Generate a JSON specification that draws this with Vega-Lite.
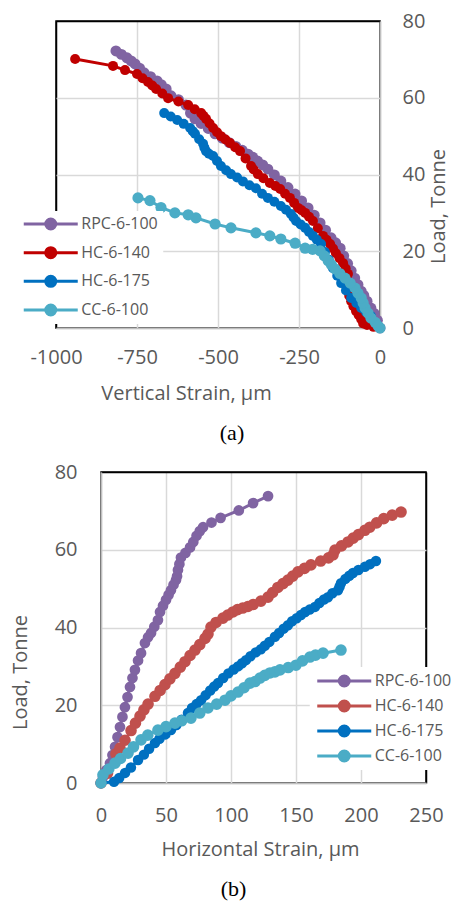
{
  "$schema": "https://vega.github.io/schema/vega-lite/v6.json",
  "background": "white",
  "padding": {"left": 9, "top": 10, "right": 0, "bottom": 0},
  "config": {
    "view": {"stroke": "black", "strokeWidth": 1.5},
    "axis": {
      "gridColor": "#D9D9D9", "gridWidth": 1.5,
      "domainColor": "#BFBFBF", "domainWidth": 1.5,
      "ticks": false, "labelFlush": false,
      "labelFont": "Open Sans", "labelFontSize": 20, "labelColor": "#595959",
      "titleFont": "Open Sans", "titleFontSize": 20, "titleColor": "#595959", "titleFontWeight": "normal"
    },
    "legend": {
      "title": null,
      "labelFont": "Open Sans", "labelFontSize": 16, "labelColor": "#595959",
      "fillColor": "white",
      "symbolType": "M-1,0L1,0M0.185,0A0.185,0.185,0,1,1,-0.185,0A0.185,0.185,0,1,1,0.185,0Z",
      "symbolSize": 2916,
      "symbolStrokeWidth": 3,
      "clipHeight": 16,
      "labelOffset": 2
    }
  },
  "datasets": {
    "vertical": [
      {"s":"RPC-6-100","x":0,"y":0},{"s":"RPC-6-100","x":-8,"y":2},{"s":"RPC-6-100","x":-18,"y":3.8},{"s":"RPC-6-100","x":-28,"y":5.2},{"s":"RPC-6-100","x":-40,"y":7},{"s":"RPC-6-100","x":-50,"y":8.5},{"s":"RPC-6-100","x":-58,"y":9.6},{"s":"RPC-6-100","x":-68,"y":11.3},{"s":"RPC-6-100","x":-78,"y":13},{"s":"RPC-6-100","x":-89,"y":14.9},{"s":"RPC-6-100","x":-100,"y":16.8},{"s":"RPC-6-100","x":-112,"y":18.8},{"s":"RPC-6-100","x":-123,"y":20.8},{"s":"RPC-6-100","x":-137,"y":22.2},{"s":"RPC-6-100","x":-151,"y":23.5},{"s":"RPC-6-100","x":-168,"y":25.5},{"s":"RPC-6-100","x":-185,"y":27.4},{"s":"RPC-6-100","x":-203,"y":29.4},{"s":"RPC-6-100","x":-222,"y":31.3},{"s":"RPC-6-100","x":-242,"y":33.1},{"s":"RPC-6-100","x":-262,"y":34.9},{"s":"RPC-6-100","x":-284,"y":36.6},{"s":"RPC-6-100","x":-306,"y":38.3},{"s":"RPC-6-100","x":-326,"y":39.9},{"s":"RPC-6-100","x":-346,"y":41.4},{"s":"RPC-6-100","x":-362,"y":42.5},{"s":"RPC-6-100","x":-378,"y":43.5},{"s":"RPC-6-100","x":-393,"y":44.5},{"s":"RPC-6-100","x":-407,"y":45.3},{"s":"RPC-6-100","x":-425,"y":46.3},{"s":"RPC-6-100","x":-445,"y":47.3},{"s":"RPC-6-100","x":-465,"y":48.3},{"s":"RPC-6-100","x":-487,"y":49.5},{"s":"RPC-6-100","x":-509,"y":50.6},{"s":"RPC-6-100","x":-530,"y":52},{"s":"RPC-6-100","x":-552,"y":53.3},{"s":"RPC-6-100","x":-571,"y":54.5},{"s":"RPC-6-100","x":-585,"y":56},{"s":"RPC-6-100","x":-599,"y":58.1},{"s":"RPC-6-100","x":-622,"y":59.5},{"s":"RPC-6-100","x":-645,"y":60.5},{"s":"RPC-6-100","x":-660,"y":62.3},{"s":"RPC-6-100","x":-675,"y":63.4},{"s":"RPC-6-100","x":-688,"y":64.4},{"s":"RPC-6-100","x":-708,"y":65.5},{"s":"RPC-6-100","x":-728,"y":66.5},{"s":"RPC-6-100","x":-742,"y":67.7},{"s":"RPC-6-100","x":-756,"y":68.8},{"s":"RPC-6-100","x":-768,"y":69.6},{"s":"RPC-6-100","x":-781,"y":70.4},{"s":"RPC-6-100","x":-798,"y":71.3},{"s":"RPC-6-100","x":-815,"y":72.2},
      {"s":"HC-6-140","x":0,"y":0},{"s":"HC-6-140","x":-20,"y":0.3},{"s":"HC-6-140","x":-40,"y":0.8},{"s":"HC-6-140","x":-52,"y":1.2},{"s":"HC-6-140","x":-58,"y":2.3},{"s":"HC-6-140","x":-66,"y":3.4},{"s":"HC-6-140","x":-74,"y":4.4},{"s":"HC-6-140","x":-82,"y":5.7},{"s":"HC-6-140","x":-89,"y":7},{"s":"HC-6-140","x":-95,"y":8.4},{"s":"HC-6-140","x":-99,"y":9.6},{"s":"HC-6-140","x":-102,"y":11},{"s":"HC-6-140","x":-101,"y":12.5},{"s":"HC-6-140","x":-99,"y":14.1},{"s":"HC-6-140","x":-106,"y":15.5},{"s":"HC-6-140","x":-114,"y":16.9},{"s":"HC-6-140","x":-125,"y":18.2},{"s":"HC-6-140","x":-136,"y":19.5},{"s":"HC-6-140","x":-145,"y":20.7},{"s":"HC-6-140","x":-154,"y":21.9},{"s":"HC-6-140","x":-165,"y":23},{"s":"HC-6-140","x":-176,"y":24},{"s":"HC-6-140","x":-192,"y":26},{"s":"HC-6-140","x":-207,"y":27.9},{"s":"HC-6-140","x":-219,"y":29},{"s":"HC-6-140","x":-231,"y":30},{"s":"HC-6-140","x":-242,"y":30.7},{"s":"HC-6-140","x":-253,"y":31.3},{"s":"HC-6-140","x":-265,"y":32.6},{"s":"HC-6-140","x":-278,"y":33.9},{"s":"HC-6-140","x":-293,"y":35},{"s":"HC-6-140","x":-308,"y":36.2},{"s":"HC-6-140","x":-323,"y":37},{"s":"HC-6-140","x":-340,"y":37.8},{"s":"HC-6-140","x":-360,"y":39},{"s":"HC-6-140","x":-377,"y":40.1},{"s":"HC-6-140","x":-390,"y":41.3},{"s":"HC-6-140","x":-398,"y":42.2},{"s":"HC-6-140","x":-415,"y":44.2},{"s":"HC-6-140","x":-432,"y":46.1},{"s":"HC-6-140","x":-447,"y":47.1},{"s":"HC-6-140","x":-463,"y":48.2},{"s":"HC-6-140","x":-477,"y":49.1},{"s":"HC-6-140","x":-491,"y":50},{"s":"HC-6-140","x":-503,"y":51},{"s":"HC-6-140","x":-515,"y":52.1},{"s":"HC-6-140","x":-526,"y":53.3},{"s":"HC-6-140","x":-537,"y":54.5},{"s":"HC-6-140","x":-545,"y":55.3},{"s":"HC-6-140","x":-552,"y":56},{"s":"HC-6-140","x":-572,"y":57},{"s":"HC-6-140","x":-592,"y":58.1},{"s":"HC-6-140","x":-622,"y":59},{"s":"HC-6-140","x":-654,"y":59.9},{"s":"HC-6-140","x":-672,"y":61.1},{"s":"HC-6-140","x":-691,"y":62.3},{"s":"HC-6-140","x":-703,"y":63.2},{"s":"HC-6-140","x":-716,"y":64.1},{"s":"HC-6-140","x":-733,"y":65.1},{"s":"HC-6-140","x":-750,"y":66.2},{"s":"HC-6-140","x":-787,"y":67.2},{"s":"HC-6-140","x":-824,"y":68.3},{"s":"HC-6-140","x":-941,"y":70.1},
      {"s":"HC-6-175","x":0,"y":0},{"s":"HC-6-175","x":-10,"y":1},{"s":"HC-6-175","x":-28,"y":3.1},{"s":"HC-6-175","x":-43,"y":4.2},{"s":"HC-6-175","x":-58,"y":5.2},{"s":"HC-6-175","x":-73,"y":6.5},{"s":"HC-6-175","x":-89,"y":7.8},{"s":"HC-6-175","x":-105,"y":9.8},{"s":"HC-6-175","x":-120,"y":11.7},{"s":"HC-6-175","x":-132,"y":13.6},{"s":"HC-6-175","x":-145,"y":15.6},{"s":"HC-6-175","x":-158,"y":17.8},{"s":"HC-6-175","x":-170,"y":19.8},{"s":"HC-6-175","x":-182,"y":21.9},{"s":"HC-6-175","x":-195,"y":23},{"s":"HC-6-175","x":-207,"y":24},{"s":"HC-6-175","x":-219,"y":25},{"s":"HC-6-175","x":-231,"y":26.1},{"s":"HC-6-175","x":-245,"y":27},{"s":"HC-6-175","x":-259,"y":27.9},{"s":"HC-6-175","x":-267,"y":28.8},{"s":"HC-6-175","x":-275,"y":29.7},{"s":"HC-6-175","x":-290,"y":30.8},{"s":"HC-6-175","x":-306,"y":31.8},{"s":"HC-6-175","x":-326,"y":32.9},{"s":"HC-6-175","x":-346,"y":33.9},{"s":"HC-6-175","x":-364,"y":35},{"s":"HC-6-175","x":-383,"y":36.4},{"s":"HC-6-175","x":-403,"y":37.2},{"s":"HC-6-175","x":-423,"y":38.2},{"s":"HC-6-175","x":-441,"y":39.2},{"s":"HC-6-175","x":-460,"y":40.1},{"s":"HC-6-175","x":-475,"y":41.1},{"s":"HC-6-175","x":-491,"y":42.2},{"s":"HC-6-175","x":-503,"y":43.5},{"s":"HC-6-175","x":-515,"y":44.8},{"s":"HC-6-175","x":-528,"y":45.4},{"s":"HC-6-175","x":-537,"y":46.1},{"s":"HC-6-175","x":-542,"y":47},{"s":"HC-6-175","x":-546,"y":48},{"s":"HC-6-175","x":-558,"y":49.2},{"s":"HC-6-175","x":-571,"y":50.6},{"s":"HC-6-175","x":-578,"y":51.3},{"s":"HC-6-175","x":-586,"y":52.1},{"s":"HC-6-175","x":-606,"y":53.2},{"s":"HC-6-175","x":-626,"y":54.2},{"s":"HC-6-175","x":-646,"y":55.1},{"s":"HC-6-175","x":-666,"y":56},
      {"s":"CC-6-100","x":0,"y":0},{"s":"CC-6-100","x":-6,"y":0.5},{"s":"CC-6-100","x":-15,"y":1.5},{"s":"CC-6-100","x":-28,"y":2.6},{"s":"CC-6-100","x":-37,"y":3.9},{"s":"CC-6-100","x":-46,"y":5.2},{"s":"CC-6-100","x":-52,"y":6.5},{"s":"CC-6-100","x":-58,"y":7.8},{"s":"CC-6-100","x":-68,"y":9.1},{"s":"CC-6-100","x":-77,"y":10.4},{"s":"CC-6-100","x":-92,"y":11.7},{"s":"CC-6-100","x":-108,"y":13},{"s":"CC-6-100","x":-124,"y":14.2},{"s":"CC-6-100","x":-139,"y":15.4},{"s":"CC-6-100","x":-150,"y":16.5},{"s":"CC-6-100","x":-160,"y":17.5},{"s":"CC-6-100","x":-172,"y":18.8},{"s":"CC-6-100","x":-185,"y":20.1},{"s":"CC-6-100","x":-208,"y":20.5},{"s":"CC-6-100","x":-231,"y":20.8},{"s":"CC-6-100","x":-262,"y":22.1},{"s":"CC-6-100","x":-306,"y":23.2},{"s":"CC-6-100","x":-340,"y":24},{"s":"CC-6-100","x":-383,"y":24.8},{"s":"CC-6-100","x":-460,"y":26.1},{"s":"CC-6-100","x":-509,"y":27.1},{"s":"CC-6-100","x":-568,"y":28.7},{"s":"CC-6-100","x":-592,"y":29.5},{"s":"CC-6-100","x":-633,"y":30},{"s":"CC-6-100","x":-676,"y":31.4},{"s":"CC-6-100","x":-710,"y":33.2},{"s":"CC-6-100","x":-747,"y":33.9}
    ],
    "horizontal": [
      {"s":"RPC-6-100","x":0,"y":0},{"s":"RPC-6-100","x":1.5,"y":1.5},{"s":"RPC-6-100","x":4,"y":3.3},{"s":"RPC-6-100","x":6.9,"y":5.1},{"s":"RPC-6-100","x":8.8,"y":7.2},{"s":"RPC-6-100","x":10.8,"y":9.3},{"s":"RPC-6-100","x":12.7,"y":11.8},{"s":"RPC-6-100","x":14.6,"y":14.4},{"s":"RPC-6-100","x":16.5,"y":17},{"s":"RPC-6-100","x":18.4,"y":19.5},{"s":"RPC-6-100","x":20.4,"y":22.1},{"s":"RPC-6-100","x":22.3,"y":24.7},{"s":"RPC-6-100","x":24.2,"y":27},{"s":"RPC-6-100","x":26.1,"y":29.1},{"s":"RPC-6-100","x":28.5,"y":31.5},{"s":"RPC-6-100","x":30.8,"y":33.4},{"s":"RPC-6-100","x":33.8,"y":36},{"s":"RPC-6-100","x":36.2,"y":37.5},{"s":"RPC-6-100","x":38.5,"y":38.6},{"s":"RPC-6-100","x":41,"y":40.2},{"s":"RPC-6-100","x":43.8,"y":41.9},{"s":"RPC-6-100","x":45.4,"y":44},{"s":"RPC-6-100","x":47.7,"y":45.6},{"s":"RPC-6-100","x":50,"y":47.1},{"s":"RPC-6-100","x":52,"y":48.4},{"s":"RPC-6-100","x":53.8,"y":49.6},{"s":"RPC-6-100","x":55.8,"y":51},{"s":"RPC-6-100","x":57.7,"y":52.2},{"s":"RPC-6-100","x":58.5,"y":53.2},{"s":"RPC-6-100","x":59.2,"y":54.8},{"s":"RPC-6-100","x":60.3,"y":56.3},{"s":"RPC-6-100","x":61.5,"y":58},{"s":"RPC-6-100","x":65,"y":59.2},{"s":"RPC-6-100","x":68.5,"y":60.6},{"s":"RPC-6-100","x":71,"y":62},{"s":"RPC-6-100","x":73.5,"y":63.6},{"s":"RPC-6-100","x":76,"y":64.8},{"s":"RPC-6-100","x":78.5,"y":65.8},{"s":"RPC-6-100","x":85,"y":67},{"s":"RPC-6-100","x":92,"y":68.2},{"s":"RPC-6-100","x":106,"y":70.1},{"s":"RPC-6-100","x":117,"y":72},{"s":"RPC-6-100","x":128.5,"y":73.8},
      {"s":"HC-6-140","x":0,"y":0},{"s":"HC-6-140","x":5,"y":2.5},{"s":"HC-6-140","x":11.5,"y":7.5},{"s":"HC-6-140","x":14.6,"y":9},{"s":"HC-6-140","x":18.5,"y":11},{"s":"HC-6-140","x":23.1,"y":13.5},{"s":"HC-6-140","x":26.5,"y":15.4},{"s":"HC-6-140","x":30,"y":17.2},{"s":"HC-6-140","x":33,"y":18.8},{"s":"HC-6-140","x":36.2,"y":20.3},{"s":"HC-6-140","x":41.5,"y":22.3},{"s":"HC-6-140","x":45.5,"y":23.8},{"s":"HC-6-140","x":49.2,"y":25.3},{"s":"HC-6-140","x":53,"y":26.8},{"s":"HC-6-140","x":56.9,"y":28.2},{"s":"HC-6-140","x":61,"y":29.8},{"s":"HC-6-140","x":64.6,"y":31.2},{"s":"HC-6-140","x":68.5,"y":32.8},{"s":"HC-6-140","x":72.3,"y":34.2},{"s":"HC-6-140","x":76,"y":35.6},{"s":"HC-6-140","x":80,"y":37.2},{"s":"HC-6-140","x":82.3,"y":38.3},{"s":"HC-6-140","x":84.6,"y":40.1},{"s":"HC-6-140","x":88.5,"y":41.3},{"s":"HC-6-140","x":93.8,"y":42.4},{"s":"HC-6-140","x":97.5,"y":43.2},{"s":"HC-6-140","x":101.5,"y":44},{"s":"HC-6-140","x":105,"y":44.6},{"s":"HC-6-140","x":109,"y":45},{"s":"HC-6-140","x":113,"y":45.4},{"s":"HC-6-140","x":117,"y":45.9},{"s":"HC-6-140","x":123,"y":46.8},{"s":"HC-6-140","x":128.5,"y":47.8},{"s":"HC-6-140","x":132,"y":49},{"s":"HC-6-140","x":136,"y":50.3},{"s":"HC-6-140","x":140,"y":51.3},{"s":"HC-6-140","x":143.8,"y":52.2},{"s":"HC-6-140","x":147.5,"y":53.2},{"s":"HC-6-140","x":151.5,"y":54.3},{"s":"HC-6-140","x":156.5,"y":55.2},{"s":"HC-6-140","x":161.5,"y":56.1},{"s":"HC-6-140","x":169,"y":57.1},{"s":"HC-6-140","x":175,"y":57.9},{"s":"HC-6-140","x":178.5,"y":58.7},{"s":"HC-6-140","x":180,"y":59.9},{"s":"HC-6-140","x":185,"y":61},{"s":"HC-6-140","x":190,"y":62},{"s":"HC-6-140","x":194,"y":63},{"s":"HC-6-140","x":198,"y":63.9},{"s":"HC-6-140","x":203,"y":65},{"s":"HC-6-140","x":206.8,"y":65.8},{"s":"HC-6-140","x":212,"y":66.9},{"s":"HC-6-140","x":217.5,"y":68},{"s":"HC-6-140","x":224,"y":68.9},{"s":"HC-6-140","x":230.8,"y":69.7},
      {"s":"HC-6-175","x":0,"y":0},{"s":"HC-6-175","x":10,"y":0.3},{"s":"HC-6-175","x":14,"y":1.3},{"s":"HC-6-175","x":18.5,"y":2.6},{"s":"HC-6-175","x":23,"y":4},{"s":"HC-6-175","x":28.5,"y":5.9},{"s":"HC-6-175","x":33,"y":7.3},{"s":"HC-6-175","x":37,"y":8.8},{"s":"HC-6-175","x":41.5,"y":10.3},{"s":"HC-6-175","x":45,"y":11.4},{"s":"HC-6-175","x":49.5,"y":12.5},{"s":"HC-6-175","x":53.8,"y":13.6},{"s":"HC-6-175","x":58,"y":14.9},{"s":"HC-6-175","x":62,"y":16.3},{"s":"HC-6-175","x":66.9,"y":18},{"s":"HC-6-175","x":70,"y":19.3},{"s":"HC-6-175","x":73.5,"y":20.3},{"s":"HC-6-175","x":77,"y":21.3},{"s":"HC-6-175","x":80.5,"y":22.6},{"s":"HC-6-175","x":84,"y":23.8},{"s":"HC-6-175","x":87,"y":24.8},{"s":"HC-6-175","x":90,"y":25.7},{"s":"HC-6-175","x":94,"y":27},{"s":"HC-6-175","x":98,"y":28.2},{"s":"HC-6-175","x":102,"y":29.2},{"s":"HC-6-175","x":105.4,"y":30},{"s":"HC-6-175","x":108.5,"y":30.8},{"s":"HC-6-175","x":111.5,"y":31.6},{"s":"HC-6-175","x":115,"y":32.6},{"s":"HC-6-175","x":119,"y":33.6},{"s":"HC-6-175","x":123,"y":34.4},{"s":"HC-6-175","x":126,"y":35.3},{"s":"HC-6-175","x":129.5,"y":36.3},{"s":"HC-6-175","x":133.8,"y":37.6},{"s":"HC-6-175","x":137,"y":38.6},{"s":"HC-6-175","x":140.5,"y":39.7},{"s":"HC-6-175","x":143.8,"y":40.6},{"s":"HC-6-175","x":147,"y":41.6},{"s":"HC-6-175","x":150.5,"y":42.4},{"s":"HC-6-175","x":153.8,"y":43.2},{"s":"HC-6-175","x":157,"y":44},{"s":"HC-6-175","x":160.5,"y":44.6},{"s":"HC-6-175","x":164.6,"y":45.3},{"s":"HC-6-175","x":168,"y":46.3},{"s":"HC-6-175","x":171.5,"y":47.2},{"s":"HC-6-175","x":174.6,"y":47.8},{"s":"HC-6-175","x":178,"y":48.8},{"s":"HC-6-175","x":182.3,"y":49.6},{"s":"HC-6-175","x":183.5,"y":50.5},{"s":"HC-6-175","x":184.6,"y":51.4},{"s":"HC-6-175","x":188,"y":52.5},{"s":"HC-6-175","x":191,"y":53.3},{"s":"HC-6-175","x":193.8,"y":54},{"s":"HC-6-175","x":198,"y":54.8},{"s":"HC-6-175","x":203,"y":55.6},{"s":"HC-6-175","x":207,"y":56.3},{"s":"HC-6-175","x":211.5,"y":57.1},
      {"s":"CC-6-100","x":0,"y":0},{"s":"CC-6-100","x":1.5,"y":2.1},{"s":"CC-6-100","x":6,"y":3.6},{"s":"CC-6-100","x":10.8,"y":5.1},{"s":"CC-6-100","x":15,"y":6.3},{"s":"CC-6-100","x":20.8,"y":7.7},{"s":"CC-6-100","x":25,"y":9.3},{"s":"CC-6-100","x":30.8,"y":11.1},{"s":"CC-6-100","x":36,"y":12.3},{"s":"CC-6-100","x":43.8,"y":13.6},{"s":"CC-6-100","x":50,"y":14.5},{"s":"CC-6-100","x":56.9,"y":15.4},{"s":"CC-6-100","x":62,"y":16},{"s":"CC-6-100","x":69.2,"y":16.7},{"s":"CC-6-100","x":76,"y":18},{"s":"CC-6-100","x":82.3,"y":19.3},{"s":"CC-6-100","x":89,"y":20.3},{"s":"CC-6-100","x":95.4,"y":21.3},{"s":"CC-6-100","x":100,"y":22.4},{"s":"CC-6-100","x":105.4,"y":23.4},{"s":"CC-6-100","x":110,"y":24.5},{"s":"CC-6-100","x":114.6,"y":25.7},{"s":"CC-6-100","x":118.5,"y":26.1},{"s":"CC-6-100","x":122.3,"y":27},{"s":"CC-6-100","x":126,"y":27.7},{"s":"CC-6-100","x":130,"y":28.3},{"s":"CC-6-100","x":133.8,"y":28.6},{"s":"CC-6-100","x":137.7,"y":29.1},{"s":"CC-6-100","x":144,"y":29.7},{"s":"CC-6-100","x":150,"y":30.3},{"s":"CC-6-100","x":155,"y":31.4},{"s":"CC-6-100","x":160.7,"y":32.4},{"s":"CC-6-100","x":165,"y":32.9},{"s":"CC-6-100","x":170.8,"y":33.4},{"s":"CC-6-100","x":184.6,"y":34.2}
    ]
  },
  "spacing": 16,
  "resolve": {"scale": {"color": "independent"}, "legend": {"color": "independent"}},
  "vconcat": [
    {
      "name": "top",
      "width": 324,
      "height": 307,
      "data": {"name": "vertical"},
      "title": {"text": "(a)", "orient": "bottom", "anchor": "middle", "frame": "group", "font": "Liberation Serif", "fontSize": 22, "fontWeight": "normal", "color": "black", "dx": 14, "offset": 20},
      "encoding": {
        "x": {"field": "x", "type": "quantitative", "scale": {"domain": [-1000, 0], "nice": false, "zero": false},
              "axis": {"values": [-1000, -750, -500, -250, 0], "labelExpr": "datum.value + ''", "labelPadding": 19,
                       "gridColor": {"condition": {"test": "datum.value === -1000", "value": "black"}, "value": "#D9D9D9"},
                       "title": "Vertical Strain, µm", "titleX": 130, "titleY": 71, "titleBaseline": "alphabetic", "titleAnchor": null}},
        "y": {"field": "y", "type": "quantitative", "scale": {"domain": [0, 80], "nice": false},
              "axis": {"orient": "right", "values": [0, 20, 40, 60, 80], "labelPadding": 22,
                       "gridColor": {"condition": {"test": "datum.value === 80", "value": "black"}, "value": "#D9D9D9"},
                       "title": "Load, Tonne", "titleAngle": 270, "titleX": 58, "titleY": 185, "titleAlign": "center", "titleBaseline": "middle", "titleAnchor": null}},
        "color": {"field": "s", "type": "nominal",
                  "scale": {"domain": ["RPC-6-100", "HC-6-140", "HC-6-175", "CC-6-100"], "range": ["#8064A2", "#C00000", "#0070C0", "#4BACC6"]},
                  "legend": {"orient": "none", "legendX": -38.75, "legendY": 190, "padding": 5, "rowPadding": 12.67,
                             "encode": {"symbols": {"update": {"fill": {"scale": "top_color", "field": "value"}, "stroke": {"scale": "top_color", "field": "value"}, "strokeWidth": {"value": 3}, "opacity": {"value": 1}}}}}},
        "order": {"value": null}
      },
      "layer": [
        {"transform": [{"filter": "datum.s === 'RPC-6-100'"}], "mark": {"type": "line", "strokeWidth": 3, "point": {"filled": true, "size": 120, "opacity": 1}}},
        {"transform": [{"filter": "datum.s === 'HC-6-140'"}], "mark": {"type": "line", "strokeWidth": 3, "point": {"filled": true, "size": 100, "opacity": 1}}},
        {"transform": [{"filter": "datum.s === 'HC-6-175'"}], "mark": {"type": "line", "strokeWidth": 3, "point": {"filled": true, "size": 100, "opacity": 1}}},
        {"transform": [{"filter": "datum.s === 'CC-6-100'"}], "mark": {"type": "line", "strokeWidth": 3, "point": {"filled": true, "size": 125, "opacity": 1}}}
      ]
    },
    {
      "name": "bottomrow",
      "spacing": 44,
      "bounds": "flush",
      "resolve": {"scale": {"color": "independent"}, "legend": {"color": "independent"}},
      "hconcat": [
        {
          "width": 1,
          "height": 311,
          "data": {"values": []},
          "mark": {"type": "point", "opacity": 0},
          "view": {"stroke": null}
        },
        {
          "name": "bottom",
          "width": 325,
          "height": 311,
          "data": {"name": "horizontal"},
          "title": {"text": "(b)", "orient": "bottom", "anchor": "middle", "frame": "group", "font": "Liberation Serif", "fontSize": 22, "fontWeight": "normal", "color": "black", "dx": -30, "offset": 20},
          "encoding": {
            "x": {"field": "x", "type": "quantitative", "scale": {"domain": [0, 250], "nice": false},
                  "axis": {"values": [0, 50, 100, 150, 200, 250], "labelPadding": 22,
                           "gridColor": {"condition": {"test": "datum.value === 250", "value": "black"}, "value": "#D9D9D9"},
                           "title": "Horizontal Strain, µm", "titleX": 159, "titleY": 72, "titleBaseline": "alphabetic", "titleAnchor": null}},
            "y": {"field": "y", "type": "quantitative", "scale": {"domain": [0, 80], "nice": false},
                  "axis": {"values": [0, 20, 40, 60, 80], "labelPadding": 24,
                           "gridColor": {"condition": {"test": "datum.value === 80", "value": "black"}, "value": "#D9D9D9"},
                           "title": "Load, Tonne", "titleAngle": 270, "titleX": -81, "titleY": 200, "titleAlign": "center", "titleBaseline": "middle", "titleAnchor": null}},
            "color": {"field": "s", "type": "nominal",
                      "scale": {"domain": ["RPC-6-100", "HC-6-140", "HC-6-175", "CC-6-100"], "range": ["#8064A2", "#C0504D", "#0070C0", "#4BACC6"]},
                      "legend": {"orient": "none", "legendX": 208.75, "legendY": 195, "padding": 6, "rowPadding": 9,
                                 "encode": {"symbols": {"update": {"fill": {"scale": "bottom_color", "field": "value"}, "stroke": {"scale": "bottom_color", "field": "value"}, "strokeWidth": {"value": 3}, "opacity": {"value": 1}}}}}},
            "order": {"value": null}
          },
          "layer": [
            {"transform": [{"filter": "datum.s === 'RPC-6-100'"}], "mark": {"type": "line", "strokeWidth": 3, "point": {"filled": true, "size": 115, "opacity": 1}}},
            {"transform": [{"filter": "datum.s === 'HC-6-140'"}], "mark": {"type": "line", "strokeWidth": 3, "point": {"filled": true, "size": 135, "opacity": 1}}},
            {"transform": [{"filter": "datum.s === 'HC-6-175'"}], "mark": {"type": "line", "strokeWidth": 3, "point": {"filled": true, "size": 110, "opacity": 1}}},
            {"transform": [{"filter": "datum.s === 'CC-6-100'"}], "mark": {"type": "line", "strokeWidth": 3, "point": {"filled": true, "size": 135, "opacity": 1}}}
          ]
        }
      ]
    }
  ]
}
